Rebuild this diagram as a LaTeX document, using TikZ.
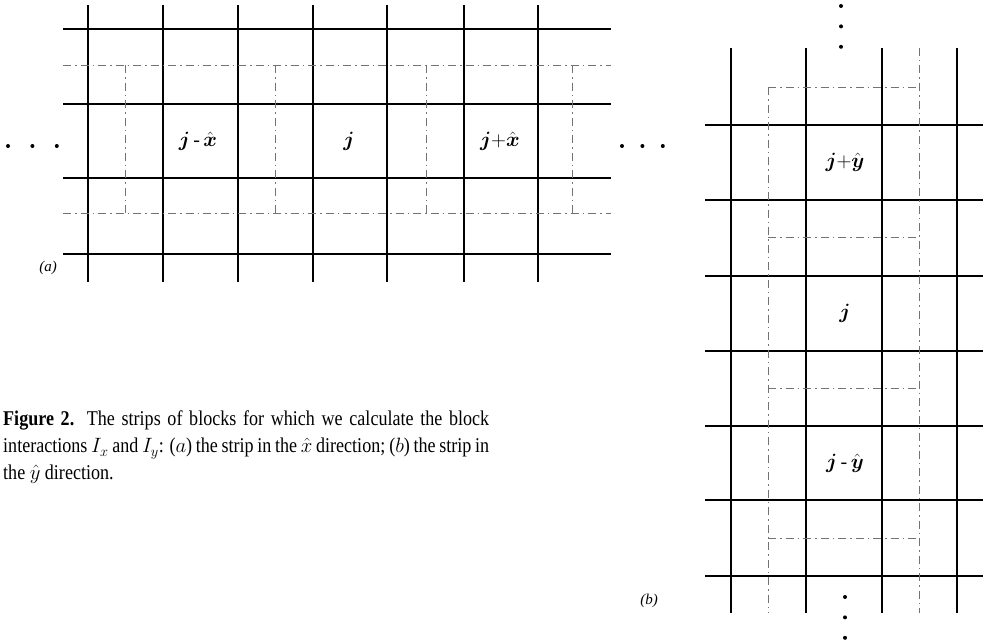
\documentclass[tikz,border=0pt]{standalone}
\usepackage{amsmath, amssymb}
\usepackage{fontspec}
\setmainfont{Liberation Serif}
\newfontfamily\capfont[FakeStretch=0.86]{Liberation Serif}
\usetikzlibrary{positioning}

\begin{document}
\begin{tikzpicture}[
    x=1pt, y=-1pt,
    grid/.style={line width=1.3pt},
    strip/.style={line width=0.7pt, black!55, dash pattern=on 8pt off 4pt on 1.5pt off 4pt},
    block/.style={font=\fontsize{20}{24}\selectfont},
    dot/.style={circle, fill, inner sep=0pt, minimum size=4pt},
    tag/.style={font=\fontsize{15}{18}\selectfont\itshape}
]
\useasboundingbox (0,0) rectangle (985,642);

% (a) strip in the x direction
\foreach \x in {88,163,238,313,387,464,538}
    \draw[grid] (\x,5) -- (\x,282);
\foreach \y in {29,104,178,254}
    \draw[grid] (63,\y) -- (611,\y);
\draw[strip] (63,65) -- (611,65);
\draw[strip] (63,213) -- (611,213);
\foreach \x in {125,275,426,572}
    \draw[strip] (\x,65) -- (\x,213);

\node[block] (Jmx) at (198,141) {$\boldsymbol{j}\,\text{-}\,\hat{\boldsymbol{x}}$};
\node[block] (Jx) at (349,141) {$\boldsymbol{j}$};
\node[block] (Jpx) at (500,141) {$\boldsymbol{j}{+}\hat{\boldsymbol{x}}$};

\node[dot] (L1) at (8,146) {};
\node[dot, right=20pt of L1] (L2) {};
\node[dot, right=20pt of L2] (L3) {};
\node[dot] (R1) at (622,146) {};
\node[dot, right=16pt of R1] (R2) {};
\node[dot, right=16pt of R2] (R3) {};

\node[tag] (TagA) at (48,268) {(a)};

% (b) strip in the y direction
\foreach \x in {731,806,882,957}
    \draw[grid] (\x,48) -- (\x,613);
\foreach \y in {125,200,276,351,426,500,576}
    \draw[grid] (705,\y) -- (983,\y);
\draw[strip] (768,87) -- (768,613);
\draw[strip] (919,48) -- (919,613);
\foreach \y in {87,237,388,538}
    \draw[strip] (768,\y) -- (919,\y);

\node[block] (Jpy) at (845,162) {$\boldsymbol{j}{+}\hat{\boldsymbol{y}}$};
\node[block] (Jy) at (845,313) {$\boldsymbol{j}$};
\node[block] (Jmy) at (845,463) {$\boldsymbol{j}\,\text{-}\,\hat{\boldsymbol{y}}$};

\node[dot] (T1) at (841,6) {};
\node[dot, below=16pt of T1] (T2) {};
\node[dot, below=16pt of T2] (T3) {};
\node[dot] (B1) at (845,597) {};
\node[dot, below=16pt of B1] (B2) {};
\node[dot, below=16pt of B2] (B3) {};

\node[tag] (TagB) at (649,601) {(b)};

% Caption
\node[anchor=north west, inner sep=0pt, text width=486pt, align=justify,
      font=\capfont\fontsize{21}{27}\selectfont] (Cap) at (3,411)
    {\textbf{Figure 2.} The strips of blocks for which we calculate the block\linebreak
     interactions $I_x$ and $I_y$: ($a$) the strip in the $\hat{x}$ direction; ($b$) the strip in\linebreak
     the $\hat{y}$ direction.};

\end{tikzpicture}
\end{document}
